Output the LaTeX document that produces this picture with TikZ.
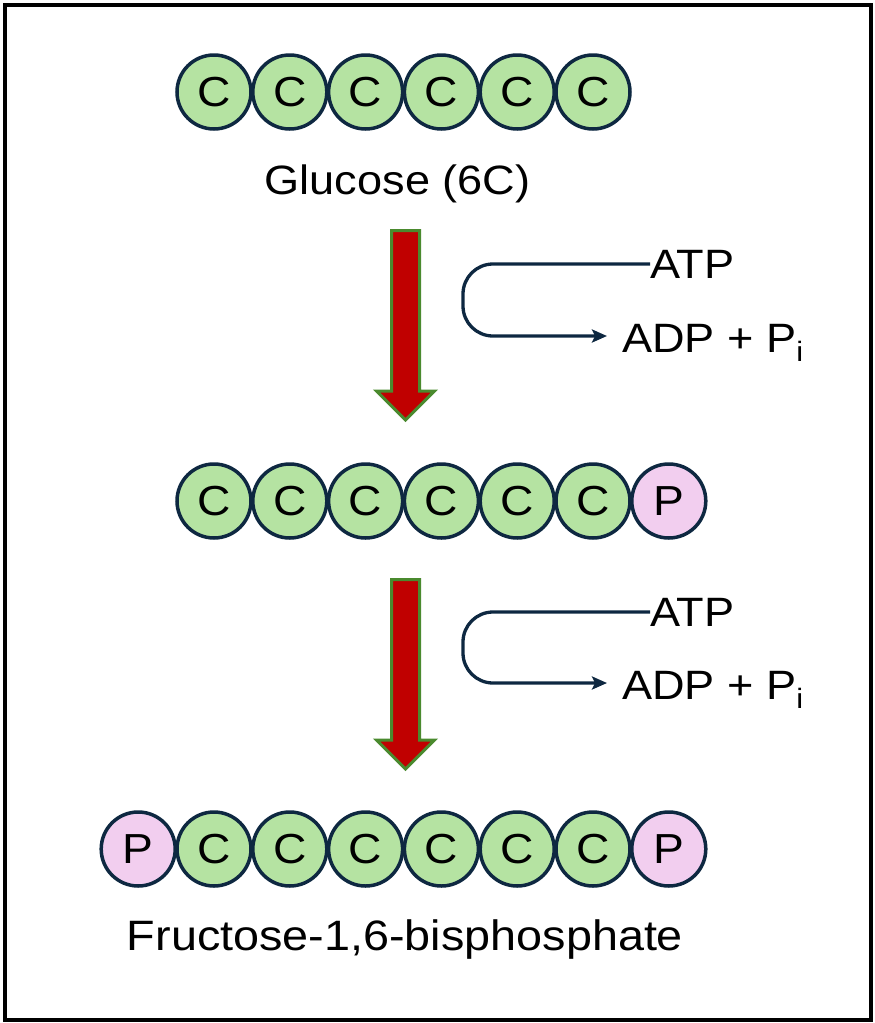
\documentclass[tikz,border=0pt]{standalone}
\usepackage{fontspec}
\setmainfont{Liberation Sans}[FakeStretch=1.1]
\usetikzlibrary{arrows.meta}
\definecolor{navy}{HTML}{0E2841}
\definecolor{cgreen}{HTML}{B5E3A2}
\definecolor{ppink}{HTML}{F2CEEF}
\definecolor{ared}{HTML}{C00000}
\definecolor{agreen}{HTML}{4A8A2E}
\newcommand{\subi}{\raisebox{-9pt}{\fontsize{28}{30}\selectfont i}}
\tikzset{
  atom/.style={circle, draw=navy, line width=3.5pt, minimum size=74pt, inner sep=0pt,
    font=\fontsize{42}{49}\selectfont},
  catom/.style={atom, fill=cgreen},
  patom/.style={atom, fill=ppink},
  lbl/.style={inner sep=0pt, font=\fontsize{41}{49}\selectfont},
  blockarrow/.style={fill=ared, draw=agreen, line width=3pt, line join=miter},
  conn/.style={draw=navy, line width=3.3pt, rounded corners=30pt,
    -{Stealth[length=15pt,width=13pt,inset=3pt]}},
}
\begin{document}
\begin{tikzpicture}[x=1pt,y=-1pt]
\useasboundingbox (0,0) rectangle (875,1023);
\draw[line width=4pt] (4.5,4.5) rectangle (870.5,1019.5);
% row 1
\foreach \i in {1,...,6}
  \node[catom] (g\i) at ({214+75.8*(\i-1)},92) {C};
\node[lbl, anchor=base] (glc) at (397.5,194) {Glucose (6C)};
% arrow 1
\draw[blockarrow] (391.5,230.5) -- (419.5,230.5) -- (419.5,391) -- (434.5,391)
  -- (405.5,420) -- (376.5,391) -- (391.5,391) -- cycle;
\node[lbl, anchor=west] (atp1) at (650,264) {ATP};
\node[lbl, anchor=base west] (adp1) at (622,352) {ADP + P\subi};
\coordinate (e1) at (607,336);
\draw[conn] (atp1.west) -- (463,264) -- (463,336) -- (e1);
% row 2
\foreach \i in {1,...,6}
  \node[catom] (h\i) at ({214+75.8*(\i-1)},501) {C};
\node[patom] (hp) at (668.8,501) {P};
% arrow 2
\begin{scope}[shift={(0,349)}]
\draw[blockarrow] (391.5,230.5) -- (419.5,230.5) -- (419.5,391) -- (434.5,391)
  -- (405.5,420) -- (376.5,391) -- (391.5,391) -- cycle;
\end{scope}
\node[lbl, anchor=west] (atp2) at (650,612) {ATP};
\node[lbl, anchor=base west] (adp2) at (622,699) {ADP + P\subi};
\coordinate (e2) at (607,683);
\draw[conn] (atp2.west) -- (463,612) -- (463,683) -- (e2);
% row 3
\node[patom] (fp1) at (138.2,849) {P};
\foreach \i in {1,...,6}
  \node[catom] (f\i) at ({214+75.8*(\i-1)},849) {C};
\node[patom] (fp2) at (668.8,849) {P};
\node[lbl, anchor=base, font=\fontsize{42.5}{49}\selectfont] (fru) at (405,950) {Fructose-1,6-bisphosphate};
\end{tikzpicture}
\end{document}
